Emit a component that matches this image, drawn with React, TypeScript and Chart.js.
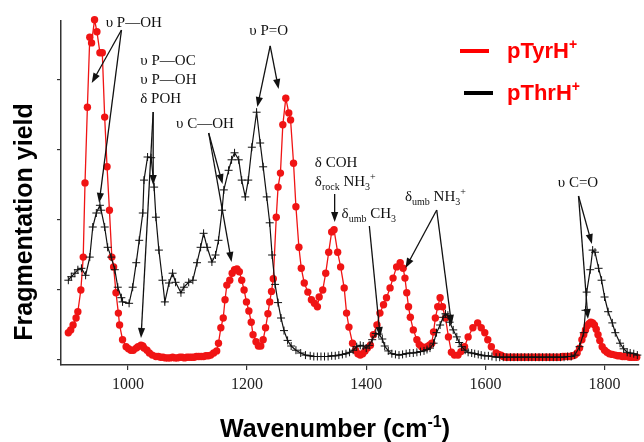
import React, { useEffect, useRef } from "react";
import { Chart, registerables } from "chart.js";

Chart.register(...registerables);

// Wavenumber axis (cm-1) and tick labels
const xMin = 887.7;
const xMax = 1857.8;
const xTickValues = [1000, 1200, 1400, 1600, 1800];
const yMin = -0.0714;
const yMax = 4.843;
const yTickValues = [0, 1, 2, 3, 4];

// pTyrH+ series: [wavenumber, fragmentation yield]
const pTyrData: [number, number][] = [
  [900, 0.39], [904, 0.43], [908, 0.5], [913, 0.6], [916, 0.69], [921, 1.0], [925, 1.47], [928, 2.53],
  [932, 3.61], [936, 4.61], [939, 4.53], [944, 4.86], [948, 4.69], [953, 4.39], [957, 4.39], [961, 3.47],
  [965, 2.76], [969, 2.14], [973, 1.47], [976, 1.33], [980, 0.96], [984, 0.67], [986, 0.5], [991, 0.29],
  [997, 0.19], [1001, 0.16], [1005, 0.14], [1009, 0.14], [1014, 0.17], [1017, 0.19], [1022, 0.21],
  [1025, 0.2], [1027, 0.17], [1032, 0.14], [1036, 0.1], [1041, 0.07], [1047, 0.05], [1051, 0.05],
  [1055, 0.04], [1059, 0.04], [1063, 0.03], [1067, 0.03], [1071, 0.03], [1075, 0.04], [1079, 0.03],
  [1083, 0.03], [1087, 0.04], [1091, 0.04], [1095, 0.03], [1099, 0.04], [1103, 0.04], [1107, 0.04],
  [1111, 0.04], [1115, 0.05], [1119, 0.05], [1123, 0.05], [1127, 0.05], [1131, 0.06], [1135, 0.06],
  [1139, 0.07], [1144, 0.1], [1149, 0.13], [1152, 0.24], [1156, 0.46], [1160, 0.6], [1163, 0.86],
  [1166, 1.07], [1171, 1.14], [1175, 1.24], [1179, 1.29], [1183, 1.3], [1187, 1.26], [1191, 1.14],
  [1195, 1.0], [1199, 0.83], [1203, 0.7], [1207, 0.54], [1210, 0.36], [1215, 0.26], [1219, 0.2],
  [1223, 0.2], [1227, 0.29], [1231, 0.46], [1235, 0.66], [1238, 0.83], [1241, 0.98], [1244, 1.16],
  [1249, 2.04], [1252, 2.47], [1256, 2.67], [1260, 3.36], [1265, 3.74], [1270, 3.53], [1273, 3.43],
  [1278, 2.81], [1282, 2.19], [1287, 1.61], [1291, 1.31], [1296, 1.1], [1302, 0.97], [1308, 0.86],
  [1313, 0.81], [1318, 0.76], [1321, 0.9], [1327, 1.0], [1332, 1.24], [1337, 1.54], [1342, 1.83],
  [1346, 1.86], [1352, 1.54], [1357, 1.33], [1363, 1.03], [1367, 0.67], [1371, 0.47], [1377, 0.24],
  [1382, 0.14], [1386, 0.09], [1390, 0.07], [1394, 0.09], [1398, 0.13], [1402, 0.17], [1407, 0.21],
  [1412, 0.36], [1418, 0.5], [1423, 0.67], [1429, 0.79], [1434, 0.89], [1440, 1.03], [1445, 1.17],
  [1451, 1.33], [1457, 1.39], [1462, 1.31], [1465, 1.17], [1468, 0.96], [1471, 0.76], [1474, 0.61],
  [1479, 0.43], [1485, 0.29], [1489, 0.22], [1493, 0.19], [1497, 0.18], [1502, 0.19], [1506, 0.21],
  [1510, 0.24], [1513, 0.4], [1516, 0.6], [1520, 0.76], [1524, 0.89], [1528, 0.76], [1533, 0.6],
  [1538, 0.33], [1543, 0.11], [1548, 0.07], [1554, 0.07], [1559, 0.12], [1565, 0.19], [1571, 0.33],
  [1579, 0.46], [1587, 0.53], [1593, 0.46], [1599, 0.39], [1604, 0.29], [1610, 0.19], [1618, 0.1],
  [1622, 0.08], [1626, 0.07], [1630, 0.05], [1634, 0.04], [1638, 0.04], [1642, 0.04], [1646, 0.04],
  [1650, 0.04], [1654, 0.04], [1658, 0.04], [1662, 0.04], [1666, 0.04], [1670, 0.04], [1674, 0.04],
  [1678, 0.04], [1682, 0.04], [1686, 0.04], [1690, 0.04], [1694, 0.04], [1698, 0.04], [1702, 0.04],
  [1706, 0.04], [1710, 0.04], [1714, 0.04], [1718, 0.04], [1722, 0.04], [1726, 0.04], [1730, 0.05],
  [1734, 0.05], [1738, 0.05], [1742, 0.05], [1746, 0.06], [1750, 0.07], [1754, 0.1], [1758, 0.17],
  [1762, 0.29], [1765, 0.36], [1768, 0.43], [1771, 0.49], [1774, 0.52], [1777, 0.54], [1780, 0.53],
  [1783, 0.5], [1786, 0.44], [1789, 0.36], [1792, 0.28], [1796, 0.19], [1800, 0.14], [1804, 0.11],
  [1808, 0.09], [1813, 0.08], [1818, 0.07], [1822, 0.06], [1826, 0.06], [1830, 0.05], [1834, 0.05],
  [1838, 0.05], [1842, 0.04], [1846, 0.04], [1850, 0.04], [1854, 0.04],
];

// pThrH+ series: [wavenumber, fragmentation yield]
const pThrData: [number, number][] = [
  [900, 1.14], [905, 1.19], [911, 1.24], [916, 1.29], [922, 1.31], [929, 1.21], [936, 1.47], [941, 1.9],
  [947, 2.1], [953, 2.21], [955, 2.14], [961, 1.9], [966, 1.61], [972, 1.47], [978, 1.29], [983, 1.04],
  [989, 0.89], [991, 0.83], [1002, 0.81], [1008, 1.04], [1014, 1.39], [1019, 1.71], [1025, 2.1],
  [1027, 2.57], [1033, 2.9], [1039, 2.89], [1044, 2.47], [1047, 2.04], [1052, 1.57], [1058, 1.14],
  [1062, 0.83], [1069, 1.1], [1075, 1.24], [1080, 1.11], [1089, 0.96], [1094, 1.04], [1102, 1.11],
  [1109, 1.14], [1116, 1.39], [1122, 1.61], [1127, 1.81], [1133, 1.61], [1141, 1.4], [1147, 1.5],
  [1152, 1.71], [1158, 2.14], [1161, 2.43], [1169, 2.71], [1174, 2.86], [1179, 2.96], [1186, 2.86],
  [1191, 2.57], [1197, 2.33], [1202, 2.57], [1208, 3.04], [1216, 3.54], [1222, 3.1], [1227, 2.76],
  [1233, 2.33], [1238, 1.96], [1242, 1.5], [1247, 1.08], [1252, 0.82], [1257, 0.6], [1262, 0.42],
  [1268, 0.28], [1274, 0.2], [1282, 0.14], [1290, 0.1], [1298, 0.07], [1306, 0.06], [1312, 0.05],
  [1318, 0.05], [1324, 0.05], [1330, 0.05], [1336, 0.05], [1342, 0.06], [1348, 0.06], [1354, 0.07],
  [1360, 0.08], [1366, 0.09], [1372, 0.11], [1378, 0.14], [1384, 0.19], [1390, 0.21], [1395, 0.2],
  [1400, 0.17], [1405, 0.21], [1410, 0.29], [1416, 0.38], [1421, 0.37], [1427, 0.3], [1431, 0.2],
  [1437, 0.13], [1443, 0.09], [1449, 0.08], [1455, 0.07], [1461, 0.08], [1467, 0.09], [1473, 0.1],
  [1479, 0.1], [1485, 0.11], [1491, 0.12], [1497, 0.13], [1502, 0.15], [1507, 0.17], [1513, 0.24],
  [1518, 0.39], [1524, 0.5], [1529, 0.61], [1533, 0.66], [1537, 0.64], [1540, 0.54], [1546, 0.43],
  [1552, 0.33], [1556, 0.25], [1560, 0.19], [1566, 0.14], [1571, 0.11], [1577, 0.1], [1582, 0.09],
  [1588, 0.08], [1593, 0.07], [1599, 0.06], [1605, 0.06], [1611, 0.05], [1618, 0.04], [1624, 0.04],
  [1630, 0.04], [1636, 0.04], [1642, 0.04], [1648, 0.04], [1654, 0.04], [1660, 0.04], [1666, 0.04],
  [1672, 0.04], [1678, 0.04], [1684, 0.04], [1690, 0.04], [1696, 0.04], [1702, 0.04], [1708, 0.04],
  [1714, 0.04], [1720, 0.04], [1726, 0.04], [1732, 0.04], [1738, 0.05], [1744, 0.05], [1750, 0.07],
  [1758, 0.19], [1765, 0.39], [1768, 0.71], [1770, 0.97], [1776, 1.29], [1780, 1.57], [1784, 1.54],
  [1790, 1.31], [1795, 1.14], [1800, 0.9], [1806, 0.69], [1813, 0.53], [1818, 0.39], [1826, 0.24],
  [1832, 0.16], [1838, 0.11], [1843, 0.1], [1849, 0.09], [1855, 0.07],
];

// Band assignment labels: anchor [wavenumber, yield], rich text parts (0 normal, 1 sub, 2 sup)
type Part = [string, number];
const bandLabels: { w: number; v: number; parts: Part[] }[] = [
  { w: 962.6, v: 4.757, parts: [["υ P—OH", 0]] },
  { w: 1020.8, v: 4.214, parts: [["υ P—OC", 0]] },
  { w: 1020.8, v: 3.943, parts: [["υ P—OH", 0]] },
  { w: 1020.8, v: 3.671, parts: [["δ POH", 0]] },
  { w: 1080.7, v: 3.314, parts: [["υ C—OH", 0]] },
  { w: 1203.8, v: 4.643, parts: [["υ P=O", 0]] },
  { w: 1313.7, v: 2.757, parts: [["δ COH", 0]] },
  { w: 1313.7, v: 2.486, parts: [["δ", 0], ["rock", 1], [" NH", 0], ["3", 1], ["+", 2]] },
  { w: 1358.6, v: 2.029, parts: [["δ", 0], ["umb", 1], [" CH", 0], ["3", 1]] },
  { w: 1465.1, v: 2.271, parts: [["δ", 0], ["umb", 1], [" NH", 0], ["3", 1], ["+", 2]] },
  { w: 1721.4, v: 2.471, parts: [["υ C=O", 0]] },
];

// Arrows: [fromW, fromV, toW, toV]
const bandArrows: number[][] = [
  [989.2, 4.714, 939.3, 3.957],
  [989.2, 4.714, 951.7, 2.243],
  [1042.4, 3.543, 1042.4, 2.5],
  [1042.4, 3.543, 1022, 0.314],
  [1135.6, 3.243, 1158.9, 2.514],
  [1135.6, 3.243, 1173.9, 1.4],
  [1238.8, 4.486, 1217.2, 3.614],
  [1238.8, 4.486, 1252.9, 3.871],
  [1347, 2.371, 1347, 1.971],
  [1405.2, 1.914, 1423.5, 0.329],
  [1518.3, 2.143, 1465.9, 1.314],
  [1518.3, 2.143, 1543.3, 0.5],
  [1756.3, 2.343, 1778.8, 1.657],
  [1756.3, 2.343, 1772.1, 0.586],
];

const RED = "#f01414";
const BLACK = "#111111";
const SERIF = "'Liberation Serif', 'Times New Roman', serif";
const SANS = "'Liberation Sans', Arial, sans-serif";

function richWidth(ctx: CanvasRenderingContext2D, parts: Part[], size: number, family: string, weight: string) {
  let w = 0;
  for (const [t, k] of parts) {
    const fs = k === 0 ? size : Math.round(size * 0.65);
    ctx.font = `${weight} ${fs}px ${family}`;
    w += ctx.measureText(t).width;
  }
  return w;
}

function drawRich(
  ctx: CanvasRenderingContext2D, x: number, y: number, parts: Part[],
  size: number, family: string, weight: string, color: string
) {
  let cx = x;
  ctx.fillStyle = color;
  ctx.textAlign = "left";
  ctx.textBaseline = "alphabetic";
  for (const [t, k] of parts) {
    const fs = k === 0 ? size : Math.round(size * 0.65);
    const dy = k === 1 ? size * 0.25 : k === 2 ? -size * 0.4 : 0;
    ctx.font = `${weight} ${fs}px ${family}`;
    ctx.fillText(t, cx, y + dy);
    cx += ctx.measureText(t).width;
  }
}

function drawArrow(ctx: CanvasRenderingContext2D, x1: number, y1: number, x2: number, y2: number) {
  const ang = Math.atan2(y2 - y1, x2 - x1);
  const len = 10;
  const half = 3.6;
  ctx.strokeStyle = BLACK;
  ctx.lineWidth = 1.3;
  ctx.beginPath();
  ctx.moveTo(x1, y1);
  ctx.lineTo(x2 - Math.cos(ang) * len * 0.8, y2 - Math.sin(ang) * len * 0.8);
  ctx.stroke();
  ctx.fillStyle = BLACK;
  ctx.beginPath();
  ctx.moveTo(x2, y2);
  ctx.lineTo(x2 - Math.cos(ang) * len - Math.sin(ang) * half, y2 - Math.sin(ang) * len + Math.cos(ang) * half);
  ctx.lineTo(x2 - Math.cos(ang) * len + Math.sin(ang) * half, y2 - Math.sin(ang) * len - Math.cos(ang) * half);
  ctx.closePath();
  ctx.fill();
}

const annotationPlugin = {
  id: "bandAnnotations",
  afterDatasetsDraw(chart: any) {
    const { ctx } = chart;
    const xs = chart.scales.x;
    const ys = chart.scales.y;
    ctx.save();
    for (const l of bandLabels) {
      drawRich(ctx, xs.getPixelForValue(l.w), ys.getPixelForValue(l.v), l.parts, 15, SERIF, "normal", BLACK);
    }
    for (const a of bandArrows) {
      drawArrow(ctx, xs.getPixelForValue(a[0]), ys.getPixelForValue(a[1]), xs.getPixelForValue(a[2]), ys.getPixelForValue(a[3]));
    }
    ctx.restore();
  },
  afterDraw(chart: any) {
    const { ctx } = chart;
    ctx.save();
    // x-axis title
    const xt: Part[] = [["Wavenumber (cm", 0], ["-1", 2], [")", 0]];
    const w = richWidth(ctx, xt, 25, SANS, "bold");
    drawRich(ctx, 335 - w / 2, 437, xt, 25, SANS, "bold", "#000");
    // y-axis title
    ctx.translate(32, 222);
    ctx.rotate(-Math.PI / 2);
    ctx.font = `bold 25px ${SANS}`;
    ctx.fillStyle = "#000";
    ctx.textAlign = "center";
    ctx.textBaseline = "alphabetic";
    ctx.fillText("Fragmentation yield", 0, 0);
    ctx.restore();

    // legend
    ctx.save();
    ctx.lineWidth = 4;
    ctx.strokeStyle = "#ff0000";
    ctx.beginPath(); ctx.moveTo(460, 51); ctx.lineTo(489, 51); ctx.stroke();
    ctx.strokeStyle = "#000";
    ctx.beginPath(); ctx.moveTo(464, 93); ctx.lineTo(493, 93); ctx.stroke();
    drawRich(ctx, 507, 58, [["pTyrH", 0], ["+", 2]], 22, SANS, "bold", "#ff0000");
    drawRich(ctx, 507, 100, [["pThrH", 0], ["+", 2]], 22, SANS, "bold", "#ff0000");
    ctx.restore();
  },
};

export default function App() {
  const ref = useRef<HTMLCanvasElement | null>(null);
  useEffect(() => {
    if (!ref.current) return;
    const chart = new Chart(ref.current, {
      type: "line",
      data: {
        datasets: [
          {
            label: "pThrH+",
            data: pThrData.map(([x, y]) => ({ x, y })),
            borderColor: BLACK,
            borderWidth: 1.2,
            pointStyle: "cross",
            pointRadius: 4,
            pointBorderColor: BLACK,
            pointBorderWidth: 1,
            tension: 0,
            order: 0,
            clip: false,
          },
          {
            label: "pTyrH+",
            data: pTyrData.map(([x, y]) => ({ x, y })),
            borderColor: RED,
            borderWidth: 1.3,
            pointStyle: "circle",
            pointRadius: 3.7,
            pointBackgroundColor: RED,
            pointBorderColor: RED,
            pointBorderWidth: 0,
            tension: 0,
            order: 1,
            clip: false,
          },
        ] as any,
      },
      options: {
        animation: false,
        responsive: false,
        maintainAspectRatio: false,
        layout: { padding: { left: 0, right: 0, top: 21, bottom: 0 } },
        plugins: { legend: { display: false }, tooltip: { enabled: false } },
        scales: {
          x: {
            type: "linear",
            min: xMin,
            max: xMax,
            afterFit: (s: any) => { s.height = 77; },
            afterBuildTicks: (s: any) => { s.ticks = xTickValues.map((v) => ({ value: v })); },
            grid: { drawOnChartArea: false, drawTicks: true, tickLength: 5, color: "#333", lineWidth: 1.2 },
            border: { display: true, color: "#333", width: 1.5 },
            ticks: {
              font: { family: SERIF, size: 16 },
              color: "#222",
              padding: 5,
              maxRotation: 0,
              autoSkip: false,
              callback: (v: any) => String(v),
            },
          },
          y: {
            type: "linear",
            min: yMin,
            max: yMax,
            afterFit: (s: any) => { s.width = 61; },
            afterBuildTicks: (s: any) => { s.ticks = yTickValues.map((v) => ({ value: v })); },
            grid: { drawOnChartArea: false, drawTicks: true, tickLength: 4, color: "#333", lineWidth: 1.2 },
            border: { display: true, color: "#333", width: 1.5 },
            ticks: { display: false },
          },
        } as any,
      },
      plugins: [annotationPlugin],
    });
    return () => chart.destroy();
  }, []);
  return (
    <div style={{ position: "absolute", left: 0, top: 0, width: 644, height: 442, background: "#fff" }}>
      <canvas ref={ref} width={644} height={442} style={{ width: 644, height: 442, display: "block" }} />
    </div>
  );
}
